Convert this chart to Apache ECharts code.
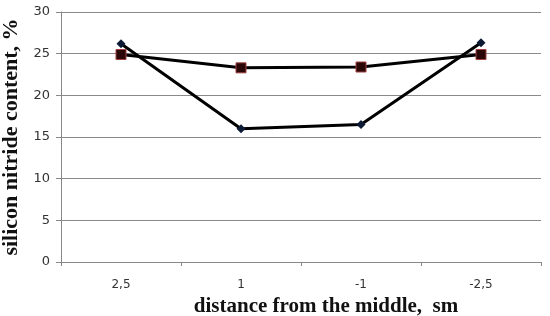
<!DOCTYPE html>
<html>
<head>
<meta charset="utf-8">
<script src="https://cdn.jsdelivr.net/npm/echarts@6/dist/echarts.min.js"></script>
<style>
  html, body { margin: 0; padding: 0; background: #fff; }
  #chart { width: 550px; height: 316px; }
</style>
</head>
<body>
<div id="chart"></div>
<script>
// distance from the middle, sm
var categories = ['2,5', '1', '-1', '-2,5']
// diamond series
var diamondValues = [26.2, 16.0, 16.5, 26.3]
// square series
var squareValues = [24.9, 23.3, 23.4, 24.9]

var chart = echarts.init(document.getElementById('chart'))

var options = {
  animation: false,
  backgroundColor: '#fff',
  grid: {
    left: 61,
    right: 9,
    top: 12,
    bottom: 54,
    containLabel: false,
    outerBoundsMode: 'none'
  },
  xAxis: {
    type: 'category',
    data: categories,
    boundaryGap: true,
    name: 'distance from the middle,  sm',
    nameLocation: 'middle',
    nameGap: 27,
    nameTextStyle: {
      fontFamily: 'Liberation Serif',
      fontWeight: 'bold',
      fontSize: 21,
      color: '#111',
      padding: [0, 0, 0, 50]
    },
    axisLine: { lineStyle: { color: '#888', width: 1 } },
    axisTick: { show: true, length: 4, lineStyle: { color: '#888' } },
    axisLabel: {
      margin: 17,
      fontFamily: 'DejaVu Sans',
      fontSize: 12,
      color: '#333'
    }
  },
  yAxis: {
    type: 'value',
    min: 0,
    max: 30,
    interval: 5,
    name: 'silicon nitride content, %',
    nameLocation: 'middle',
    nameGap: 36,
    nameTextStyle: {
      fontFamily: 'Liberation Serif',
      fontWeight: 'bold',
      fontSize: 22,
      color: '#111'
    },
    axisLine: { show: true, lineStyle: { color: '#888', width: 1 } },
    axisTick: { show: true, length: 5, lineStyle: { color: '#888' } },
    axisLabel: {
      margin: 11,
      fontFamily: 'DejaVu Sans',
      fontSize: 13,
      color: '#333'
    },
    splitLine: { lineStyle: { color: '#8a8a8a', width: 1 } }
  },
  series: [{
    type: 'line',
    data: diamondValues,
    symbol: 'diamond',
    symbolSize: 9,
    lineStyle: { color: '#000', width: 3 },
    itemStyle: { color: '#0d1a33', borderColor: '#0d1a33', borderWidth: 0 },
    z: 3
  }, {
    type: 'line',
    data: squareValues,
    symbol: 'rect',
    symbolSize: 10,
    lineStyle: { color: '#000', width: 3 },
    itemStyle: { color: '#2a0808', borderColor: '#a04040', borderWidth: 1 },
    z: 2
  }]
}
chart.setOption(options)
</script>
</body>
</html>
